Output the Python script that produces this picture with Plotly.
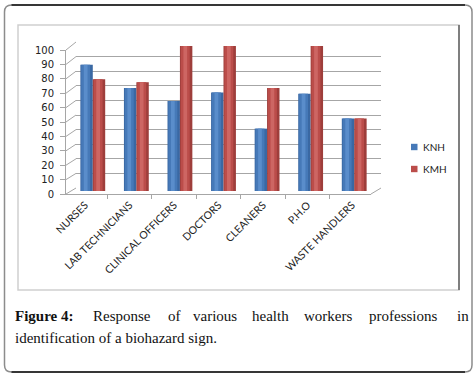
import plotly.graph_objects as go

categories = ["NURSES", "LAB TECHNICIANS", "CLINICAL OFFICERS", "DOCTORS",
              "CLEANERS", "P.H.O", "WASTE HANDLERS"]
knh = [87, 71, 62, 68, 43, 67, 50]
kmh = [77, 75, 100, 100, 71, 100, 50]
y_ticks = list(range(0, 101, 10))

W, H = 475, 375
def px(x):
    return x / W
def py(y):
    return 1 - y / H

# geometry (pixels) of the pseudo-3D box
FRONT = dict(x0=66, x1=371, y0=194, y1=50)
BACK = dict(x0=76, x1=381, y0=188, y1=42)
MID = dict(x0=71, x1=376, y0=191, y1=46)

fig = go.Figure()

# back wall gridlines (xaxis2/yaxis2)
fig.add_trace(go.Scatter(x=[None], y=[None], xaxis="x2", yaxis="y2",
                         showlegend=False, hoverinfo="skip"))

# cylinder-like bars: dark edge, mid body, highlight
BW = 0.285
series = [
    ("KNH", knh, -BW, ["#3A68A3", "#4679B8", "#5A8DCB"]),
    ("KMH", kmh, 0.0, ["#9E3E3B", "#BB4D4A", "#CD6663"]),
]
for name, vals, off, cols in series:
    for frac, col in zip([1.0, 0.72, 0.3], cols):
        w = BW * frac
        o = off + (BW - w) / 2 - (0.02 if frac < 1 else 0)
        fig.add_trace(go.Bar(name=name, x=categories, y=vals, xaxis="x3", yaxis="y3",
                             width=w, offset=o, showlegend=False,
                             marker=dict(color=col, line=dict(width=0))))

# front axes for labels
fig.add_trace(go.Scatter(x=categories, y=[None] * len(categories), xaxis="x", yaxis="y",
                         showlegend=False, hoverinfo="skip"))

shapes = []
gc = "#A6A6A6"
def fy(v, d):
    return d["y0"] + (d["y1"] - d["y0"]) * v / 100.0
for v in y_ticks:
    shapes.append(dict(type="line", xref="paper", yref="paper",
                       x0=px(FRONT["x0"]), y0=py(fy(v, FRONT)),
                       x1=px(BACK["x0"]), y1=py(fy(v, BACK)),
                       line=dict(color=gc, width=1)))
# right floor diagonal
shapes.append(dict(type="line", xref="paper", yref="paper",
                   x0=px(FRONT["x1"]), y0=py(FRONT["y0"]),
                   x1=px(BACK["x1"]), y1=py(BACK["y0"]),
                   line=dict(color=gc, width=1)))
# inner chart frame
shapes.append(dict(type="rect", xref="paper", yref="paper",
                   x0=px(18), y0=py(290), x1=px(459), y1=py(25),
                   line=dict(color="#CFCFCF", width=1.5), layer="below"))
shapes.append(dict(type="line", xref="paper", yref="paper",
                   x0=px(459), y0=py(290), x1=px(459), y1=py(25),
                   line=dict(color="#7F7F7F", width=2)))
# outer rounded frame
x0, y0, x1, y1, r = 4.5, 5, 472, 372, 7
path = (f"M {px(x0+r)},{py(y0)} L {px(x1-r)},{py(y0)} "
        f"Q {px(x1)},{py(y0)} {px(x1)},{py(y0+r)} "
        f"L {px(x1)},{py(y1-r)} Q {px(x1)},{py(y1)} {px(x1-r)},{py(y1)} "
        f"L {px(x0+r)},{py(y1)} Q {px(x0)},{py(y1)} {px(x0)},{py(y1-r)} "
        f"L {px(x0)},{py(y0+r)} Q {px(x0)},{py(y0)} {px(x0+r)},{py(y0)} Z")
shapes.append(dict(type="path", xref="paper", yref="paper", path=path,
                   line=dict(color="#8C8C8C", width=1.5)))
shapes.append(dict(type="line", xref="paper", yref="paper",
                   x0=px(x0+r), y0=py(y0), x1=px(x1-r), y1=py(y0),
                   line=dict(color="#111111", width=1.5)))
shapes.append(dict(type="line", xref="paper", yref="paper",
                   x0=px(x0+r), y0=py(y1), x1=px(x1-r), y1=py(y1),
                   line=dict(color="#111111", width=1.5)))

annotations = []
# legend (manual, to match the compact key)
leg_font = dict(family="Lato", size=10, color="#222222")
for (name, _, _, cols), ly in zip(series, [147, 169]):
    shapes.append(dict(type="rect", xref="paper", yref="paper",
                       x0=px(411), x1=px(417.5), y0=py(ly + 3.2), y1=py(ly - 3.2),
                       fillcolor=cols[1], line=dict(width=0)))
    annotations.append(dict(text=name, x=px(420.5), y=py(ly), xref="paper", yref="paper",
                            xanchor="left", yanchor="middle", showarrow=False,
                            font=leg_font))

# caption (justified first line)
cap_font = dict(family="Liberation Serif", size=15, color="#111111")
words1 = [("<b>Figure 4:</b>", 13), ("Response", 91), ("of", 166), ("various", 191),
          ("health", 250), ("workers", 302), ("professions", 367), ("in", 455)]
for w, x in words1:
    annotations.append(dict(text=w, x=px(x), y=py(316), xref="paper", yref="paper",
                            xanchor="left", yanchor="middle", showarrow=False,
                            font=cap_font))
annotations.append(dict(text="identification of a biohazard sign.", x=px(13), y=py(338),
                        xref="paper", yref="paper", xanchor="left", yanchor="middle",
                        showarrow=False, font=cap_font))

lab_font = dict(family="Lato", size=10.5, color="#222222")
fig.update_layout(
    template="none",
    width=W, height=H, margin=dict(l=0, r=0, t=0, b=0, pad=0, autoexpand=False),
    paper_bgcolor="white", plot_bgcolor="rgba(0,0,0,0)",
    barmode="overlay",
    showlegend=False,
    xaxis=dict(domain=[px(FRONT["x0"]), px(FRONT["x1"])], anchor="y",
               type="category", categoryarray=categories, categoryorder="array",
               tickson="boundaries", ticks="outside", ticklen=4, tickcolor=gc,
               showline=True, linecolor=gc, linewidth=1, showgrid=False,
               tickangle=-45, tickfont=lab_font, fixedrange=True, automargin=False),
    yaxis=dict(domain=[py(FRONT["y0"]), py(FRONT["y1"])], anchor="x",
               range=[0, 100], tickvals=y_ticks, ticks="outside", ticklen=5,
               tickcolor=gc, showline=True, linecolor=gc, linewidth=1,
               showgrid=False, zeroline=False, ticklabelstandoff=4, automargin=False,
               tickfont=dict(family="DejaVu Sans", size=10, color="#222222")),
    xaxis2=dict(domain=[px(BACK["x0"]), px(BACK["x1"])], anchor="y2",
                range=[0, 1], visible=False, automargin=False),
    yaxis2=dict(domain=[py(BACK["y0"]), py(BACK["y1"])], anchor="x2",
                range=[0, 100], tickvals=y_ticks, showgrid=True, gridcolor=gc,
                gridwidth=1, zeroline=False, showticklabels=False, ticks="",
                showline=False, automargin=False),
    xaxis3=dict(domain=[px(MID["x0"]), px(MID["x1"])], anchor="y3",
                type="category", categoryarray=categories, categoryorder="array",
                visible=False, automargin=False),
    yaxis3=dict(domain=[py(MID["y0"]), py(MID["y1"])], anchor="x3",
                range=[0, 100], visible=False, automargin=False),
    shapes=shapes, annotations=annotations,
)

fig.write_html("out.html", config={"displayModeBar": False, "staticPlot": True},
               post_script="document.body.style.margin='0';"
                           "document.body.style.overflow='hidden';")
